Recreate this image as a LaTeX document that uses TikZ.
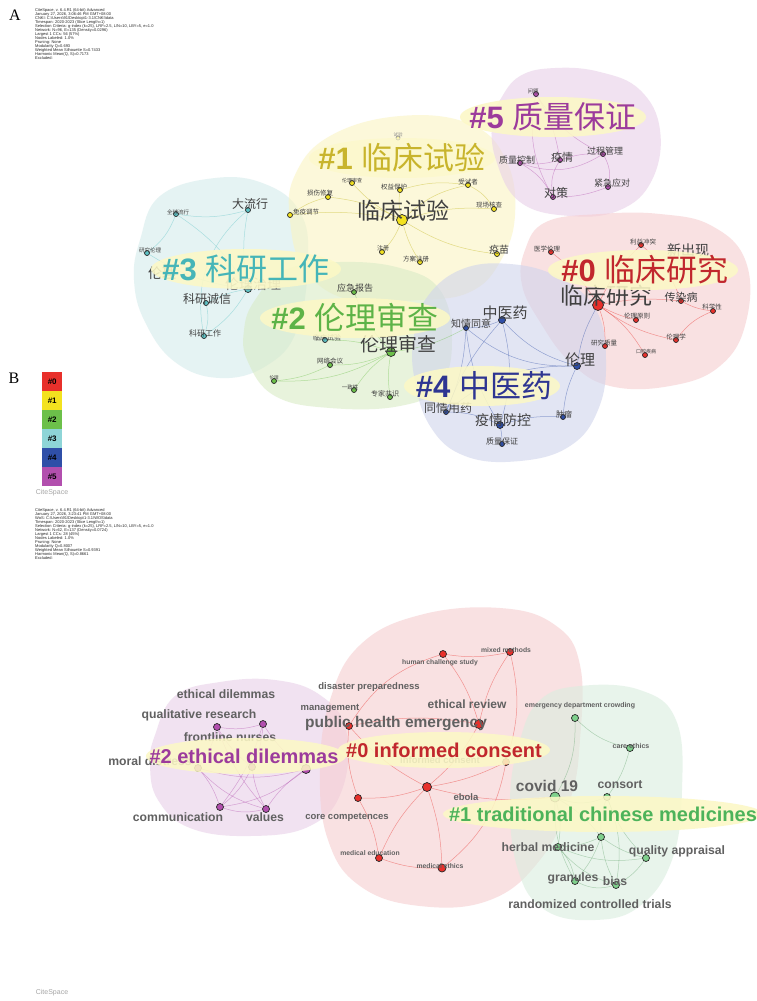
\documentclass[tikz,border=0pt]{standalone}
\usepackage{fontspec}
\setmainfont{Liberation Sans}
\newfontfamily\cjk{Noto Sans CJK SC}
\newfontfamily\serifA{Liberation Serif}
\usetikzlibrary{shapes.geometric}
\definecolor{cR}{HTML}{E8302B}
\definecolor{cY}{HTML}{F3E21F}
\definecolor{cG}{HTML}{6CC04A}
\definecolor{cC}{HTML}{5EC3C6}
\definecolor{cB}{HTML}{2F4FA8}
\definecolor{cP}{HTML}{B24FAE}
\definecolor{cGb}{HTML}{7FD08C}
\definecolor{tR}{HTML}{C1272D}
\definecolor{tY}{HTML}{C8B42C}
\definecolor{tG}{HTML}{5DB347}
\definecolor{tC}{HTML}{45B5B8}
\definecolor{tB}{HTML}{2E3592}
\definecolor{tP}{HTML}{9C3B9C}
\definecolor{tGb}{HTML}{4DB35A}
\definecolor{bR}{HTML}{F6CDD0}
\definecolor{bY}{HTML}{FAF4C2}
\definecolor{bG}{HTML}{D9EBC6}
\definecolor{bC}{HTML}{D5ECEC}
\definecolor{bB}{HTML}{D0D4EC}
\definecolor{bP}{HTML}{E8D0E8}
\definecolor{bGb}{HTML}{DAEEDF}
\definecolor{hl}{HTML}{FCF8C6}
\newcommand\cltxt[2]{{\bfseries\##1} {\cjk #2}}
\tikzset{
 kwdot/.style={circle,draw=black!85,line width=0.7pt,inner sep=0pt,minimum size=#1},
 kwdot/.default=5pt,
 zl/.style={font=\cjk\fontsize{#1pt}{#1pt}\selectfont,text=black!75,inner sep=0pt},
 el/.style={font=\bfseries\fontsize{#1pt}{#1pt}\selectfont,text=black!62,inner sep=0pt},
 clab/.style={font=\fontsize{31pt}{31pt}\selectfont,inner sep=0pt},
 blab/.style={font=\bfseries\fontsize{20pt}{20pt}\selectfont,inner sep=0pt},
 blob/.style={fill=#1,fill opacity=0.6,draw=none},
 hlight/.style={fill=hl,fill opacity=0.88},
 edge/.style={draw=#1,line width=0.5pt,draw opacity=0.45},
 hdr/.style={font=\fontsize{4pt}{4pt}\selectfont,align=left,anchor=north west,inner sep=0pt,text=black!85},
 legbox/.style={minimum width=20pt,minimum height=19pt,inner sep=0pt,font=\bfseries\fontsize{8pt}{8pt}\selectfont,anchor=north west},
 logo/.style={font=\fontsize{7pt}{7pt}\selectfont,text=black!35,inner sep=0pt}
}
\begin{document}
\begin{tikzpicture}[x=1pt,y=-1pt]
\clip (0,0) rectangle (757,1001);
\fill[white] (0,0) rectangle (757,1001);

% ===== Panel A headers =====
\node[font=\serifA\fontsize{16pt}{16pt}\selectfont] (A) at (15,15) {A};
\node[hdr] (hdrA) at (35,8) {CiteSpace, v. 6.4.R1 (64-bit) Advanced\\January 27, 2026, 3:06:46 PM GMT+08:00\\CNKI: C:\textbackslash Users\textbackslash 91\textbackslash Desktop\textbackslash 1-3.1\textbackslash CNKI\textbackslash data\\Timespan: 2020-2023 (Slice Length=1)\\Selection Criteria: g-index (k=25), LRF=2.5, L/N=10, LBY=5, e=1.0\\Network: N=96, E=135 (Density=0.0296)\\Largest 1 CCs: 56 (57\%)\\Nodes Labeled: 1.0\%\\Pruning: None\\Modularity Q=0.693\\Weighted Mean Silhouette S=0.7433\\Harmonic Mean(Q, S)=0.7173\\Excluded:};

% ===== Panel A blobs =====
\fill[blob=bC] plot[smooth cycle,tension=0.7] coordinates {(140,240) (160,196) (215,178) (265,184) (300,212) (308,260) (297,330) (266,366) (220,378) (175,362) (145,322) (134,280)};
\fill[blob=bY] plot[smooth cycle,tension=0.7] coordinates {(295,175) (330,136) (400,116) (470,124) (506,160) (515,215) (500,262) (470,292) (420,300) (350,300) (305,270) (290,220)};
\fill[blob=bP] plot[smooth cycle,tension=0.7] coordinates {(500,100) (520,76) (555,68) (600,72) (640,90) (660,130) (652,180) (620,210) (570,216) (520,202) (496,160) (492,120)};
\fill[blob=bR] plot[smooth cycle,tension=0.7] coordinates {(525,250) (546,222) (600,214) (660,214) (712,226) (746,262) (746,322) (720,366) (670,386) (610,386) (570,362) (540,322) (522,285)};
\fill[blob=bG] plot[smooth cycle,tension=0.7] coordinates {(255,300) (285,270) (340,262) (400,268) (440,290) (452,340) (440,386) (400,406) (330,408) (275,396) (248,362) (244,330)};
\fill[blob=bB] plot[smooth cycle,tension=0.7] coordinates {(425,300) (460,270) (510,264) (560,278) (596,310) (606,360) (598,410) (570,446) (520,461) (465,456) (430,426) (414,376) (414,336)};

% ===== Panel A nodes =====
\node[kwdot=11pt,fill=cY] (lcsy) at (402,220) {};
\node[kwdot,fill=cY] (qybh) at (400,190) {};
\node[kwdot,fill=cY] (sss) at (468,185) {};
\node[kwdot,fill=cY] (sxxf) at (328,197) {};
\node[kwdot,fill=cY] (llscy) at (352,183) {};
\node[kwdot,fill=cY] (myjt) at (290,215) {};
\node[kwdot,fill=cY] (xchc) at (494,209) {};
\node[kwdot,fill=cY] (ym) at (497,254) {};
\node[kwdot,fill=cY] (zc) at (382,252) {};
\node[kwdot,fill=cY] (fazc) at (420,262) {};
\node[kwdot=4pt,fill=cY!40,draw=black!40] (sy) at (398,138) {};
\node[kwdot,fill=cP] (wt) at (536,94) {};
\node[kwdot,fill=cP] (zlkz) at (520,163) {};
\node[kwdot,fill=cP] (yq5) at (560,160) {};
\node[kwdot,fill=cP] (gcgl) at (603,154) {};
\node[kwdot,fill=cP] (jjyd) at (608,187) {};
\node[kwdot,fill=cP] (dc) at (553,197) {};
\node[kwdot=11pt,fill=cR] (lcyj) at (598,305) {};
\node[kwdot,fill=cR] (yxll) at (551,252) {};
\node[kwdot,fill=cR] (lyct) at (641,245) {};
\node[kwdot,fill=cR] (crb) at (681,301) {};
\node[kwdot,fill=cR] (kxx) at (713,311) {};
\node[kwdot,fill=cR] (llyz) at (636,320) {};
\node[kwdot,fill=cR] (llx) at (676,340) {};
\node[kwdot,fill=cR] (yjzl) at (605,346) {};
\node[kwdot,fill=cR] (kqjb) at (645,355) {};
\node[kwdot=7pt,fill=cB] (zyy) at (502,320) {};
\node[kwdot,fill=cB] (zqty) at (466,328) {};
\node[kwdot=7pt,fill=cB] (ll4) at (577,366) {};
\node[kwdot,fill=cB] (tqyy) at (446,412) {};
\node[kwdot=7pt,fill=cB] (yqfk) at (500,425) {};
\node[kwdot,fill=cB] (zlbz) at (502,444) {};
\node[kwdot,fill=cB] (zl) at (563,417) {};
\node[kwdot,fill=cC] (dlx) at (248,210) {};
\node[kwdot,fill=cC] (qqlx) at (176,214) {};
\node[kwdot,fill=cC] (yjll) at (147,253) {};
\node[kwdot=7pt,fill=cC] (llzl) at (248,289) {};
\node[kwdot,fill=cC] (kycx) at (206,303) {};
\node[kwdot,fill=cC] (kygz) at (204,336) {};
\node[kwdot,fill=cG] (yjbg) at (354,292) {};
\node[kwdot=9pt,fill=cG] (llsc) at (391,352) {};
\node[kwdot,fill=cC] (lcsyc) at (325,340) {};
\node[kwdot,fill=cG] (wlhy) at (330,365) {};
\node[kwdot,fill=cG] (ll2) at (274,381) {};
\node[kwdot,fill=cG] (yzx) at (354,390) {};
\node[kwdot,fill=cG] (zjgs) at (390,397) {};

% ===== Panel A edges =====
\foreach \a/\b/\c in {lcsy/qybh/10,lcsy/sss/15,lcsy/sxxf/-10,lcsy/llscy/10,lcsy/myjt/-8,lcsy/xchc/10,lcsy/ym/-12,lcsy/zc/10,lcsy/fazc/-8,sss/xchc/15,myjt/sxxf/10,qybh/sss/12}
  \draw[edge=cY!80!black] (\a) to[bend left=\c] (\b);
\foreach \a/\b/\c in {zlkz/yq5/-10,zlkz/dc/15,yq5/dc/-20,yq5/gcgl/10,gcgl/jjyd/20,dc/jjyd/-10,wt/yq5/10,wt/gcgl/-15,zlkz/gcgl/-25,wt/dc/-20}
  \draw[edge=cP] (\a) to[bend left=\c] (\b);
\foreach \a/\b/\c in {lcyj/yxll/-10,lcyj/lyct/10,lcyj/crb/8,lcyj/llyz/-6,lcyj/llx/-12,lcyj/yjzl/10,lcyj/kqjb/12,crb/kxx/-10,llx/kxx/15,lyct/crb/15}
  \draw[edge=cR] (\a) to[bend left=\c] (\b);
\foreach \a/\b/\c in {zyy/zqty/10,zyy/ll4/-15,zqty/ll4/-20,zyy/yqfk/15,zqty/tqyy/10,tqyy/yqfk/12,yqfk/zlbz/5,yqfk/zl/10,ll4/zl/-10,ll4/tqyy/-20,zqty/yqfk/-12,zyy/tqyy/-10,ll4/lcyj/10}
  \draw[edge=cB] (\a) to[bend left=\c] (\b);
\foreach \a/\b/\c in {llzl/dlx/10,llzl/qqlx/-12,llzl/yjll/12,llzl/kycx/-8,llzl/kygz/12,dlx/qqlx/12,qqlx/yjll/15,kycx/kygz/15,dlx/kygz/-30}
  \draw[edge=cC] (\a) to[bend left=\c] (\b);
\foreach \a/\b/\c in {llsc/yjbg/10,llsc/lcsyc/-10,llsc/wlhy/12,llsc/ll2/15,llsc/yzx/-10,llsc/zjgs/-8,wlhy/ll2/10,llsc/zqty/-10}
  \draw[edge=cG] (\a) to[bend left=\c] (\b);

% ===== Panel A labels =====
\node[zl=23] (lcsy-l) at (403,211) {临床试验};
\node[zl=6.5] (qybh-l) at (394,187) {权益保护};
\node[zl=6.5] (sss-l) at (468,182) {受试者};
\node[zl=6.5] (sxxf-l) at (320,193) {损伤修复};
\node[zl=5] (llscy-l) at (352,181) {伦理审查};
\node[zl=6.5] (myjt-l) at (306,212) {免疫调节};
\node[zl=6.5] (xchc-l) at (489,205) {现场核查};
\node[zl=10] (ym-l) at (499,250) {疫苗};
\node[zl=6] (zc-l) at (383,248) {注册};
\node[zl=6.5] (fazc-l) at (416,259) {方案注册};
\node[zl=4.5,text=black!45] (sy-l) at (398,135) {试验};
\node[zl=5.5] (wt-l) at (533,91) {问题};
\node[zl=9] (zlkz-l) at (517,160) {质量控制};
\node[zl=11] (yq5-l) at (562,157) {疫情};
\node[zl=9] (gcgl-l) at (605,151) {过程管理};
\node[zl=9] (jjyd-l) at (612,183) {紧急应对};
\node[zl=12] (dc-l) at (556,193) {对策};
\node[zl=23] (lcyj-l) at (606,296) {临床研究};
\node[zl=6.5] (yxll-l) at (547,249) {医学伦理};
\node[zl=6.5] (lyct-l) at (643,242) {利益冲突};
\node[zl=14] (xcx-l) at (688,250) {新出现};
\node[zl=11] (crb-l) at (681,297) {传染病};
\node[zl=6.5] (kxx-l) at (712,307) {科学性};
\node[zl=6.5] (llyz-l) at (637,316) {伦理原则};
\node[zl=6.5] (llx-l) at (676,337) {伦理学};
\node[zl=6.5] (yjzl-l) at (604,343) {研究质量};
\node[zl=5] (kqjb-l) at (646,352) {口腔疾病};
\node[zl=15] (zyy-l) at (505,313) {中医药};
\node[zl=10] (zqty-l) at (471,324) {知情同意};
\node[zl=15] (ll4-l) at (580,360) {伦理};
\node[zl=12] (tqyy-l) at (448,408) {同情用药};
\node[zl=14] (yqfk-l) at (503,420) {疫情防控};
\node[zl=8] (zlbz-l) at (502,441) {质量保证};
\node[zl=8] (zl-l) at (564,414) {肿瘤};
\node[zl=12] (dlx-l) at (250,204) {大流行};
\node[zl=5.5] (qqlx-l) at (178,212) {全球流行};
\node[zl=5.5] (yjll-l) at (150,250) {研究伦理};
\node[zl=14] (ll3-l) at (162,273) {伦理};
\node[zl=14,text=black!55] (llzl-l) at (253,284) {伦理治理};
\node[zl=12] (kycx-l) at (207,299) {科研诚信};
\node[zl=8] (kygz-l) at (205,333) {科研工作};
\node[zl=9] (yjbg-l) at (355,288) {应急报告};
\node[zl=19] (llsc-l) at (398,344) {伦理审查};
\node[zl=7] (lcsyc-l) at (327,338) {临床试验};
\node[zl=6.5] (wlhy-l) at (330,361) {网络会议};
\node[zl=4.5] (ll2-l) at (274,378) {伦理};
\node[zl=5.5] (yzx-l) at (350,387) {一致性};
\node[zl=7] (zjgs-l) at (385,394) {专家共识};

% ===== Panel A cluster labels =====
\fill[hlight] (553,117) ellipse [x radius=93,y radius=20];
\node[clab,text=tP] (c5) at (553,117) {\cltxt{5}{质量保证}};
\fill[hlight,fill opacity=0.6] (402,158) ellipse [x radius=93,y radius=20];
\node[clab,text=tY] (c1) at (402,158) {\cltxt{1}{临床试验}};
\fill[hlight] (246,269) ellipse [x radius=95,y radius=20];
\node[clab,text=tC] (c3) at (246,269) {\cltxt{3}{科研工作}};
\fill[hlight] (643,270) ellipse [x radius=95,y radius=20];
\node[clab,text=tR] (c0) at (645,270) {\cltxt{0}{临床研究}};
\fill[hlight] (355,318) ellipse [x radius=95,y radius=20];
\node[clab,text=tG] (c2) at (355,318) {\cltxt{2}{伦理审查}};
\fill[hlight] (482,386) ellipse [x radius=78,y radius=20];
\node[clab,text=tB] (c4) at (484,386) {\cltxt{4}{中医药}};

% ===== Legend =====
\node[font=\serifA\fontsize{16pt}{16pt}\selectfont] (B) at (14,378) {B};
\node[legbox,fill=cR] (L0) at (42,372) {\#0};
\node[legbox,fill=cY] (L1) at (42,391) {\#1};
\node[legbox,fill=cG] (L2) at (42,410) {\#2};
\node[legbox,fill=cC!70] (L3) at (42,429) {\#3};
\node[legbox,fill=cB] (L4) at (42,448) {\#4};
\node[legbox,fill=cP] (L5) at (42,467) {\#5};
\node[logo] (logo1) at (52,493) {CiteSpace};
\node[hdr] (hdrB) at (35,508) {CiteSpace, v. 6.4.R1 (64-bit) Advanced\\January 27, 2026, 3:23:41 PM GMT+08:00\\WoS: C:\textbackslash Users\textbackslash 91\textbackslash Desktop\textbackslash 1-3.1\textbackslash WOS\textbackslash data\\Timespan: 2020-2023 (Slice Length=1)\\Selection Criteria: g-index (k=25), LRF=2.5, L/N=10, LBY=5, e=1.0\\Network: N=62, E=137 (Density=0.0724)\\Largest 1 CCs: 28 (45\%)\\Nodes Labeled: 1.0\%\\Pruning: None\\Modularity Q=0.8007\\Weighted Mean Silhouette S=0.9391\\Harmonic Mean(Q, S)=0.8661\\Excluded:};

% ===== Panel B blobs =====
\fill[blob=bP] plot[smooth cycle,tension=0.7] coordinates {(155,735) (175,696) (220,682) (275,680) (320,695) (346,730) (342,790) (310,826) (250,836) (190,828) (158,800) (150,765)};
\fill[blob=bR] plot[smooth cycle,tension=0.7] coordinates {(330,700) (360,645) (420,615) (500,608) (555,625) (580,665) (580,740) (570,800) (540,860) (490,900) (420,906) (360,886) (328,840) (320,770)};
\fill[blob=bGb] plot[smooth cycle,tension=0.7] coordinates {(520,740) (540,700) (580,686) (640,690) (676,720) (682,790) (672,860) (640,906) (595,920) (545,910) (518,870) (510,800)};

% ===== Panel B nodes =====
\node[kwdot=7pt,fill=cR] (hcs) at (443,654) {};
\node[kwdot=7pt,fill=cR] (mm) at (510,652) {};
\node[kwdot=7pt,fill=cR] (phe) at (349,726) {};
\node[kwdot=9pt,fill=cR] (er) at (479,724) {};
\node[kwdot=7pt,fill=cR] (ic) at (506,762) {};
\node[kwdot=9pt,fill=cR] (hub) at (427,787) {};
\node[kwdot=7pt,fill=cR] (cc) at (358,798) {};
\node[kwdot=7pt,fill=cR] (med) at (379,858) {};
\node[kwdot=8pt,fill=cR] (mef) at (442,868) {};
\node[kwdot=7pt,fill=cP] (p1) at (217,727) {};
\node[kwdot=7pt,fill=cP] (p2) at (263,724) {};
\node[kwdot=7pt,fill=cP] (p3) at (198,768) {};
\node[kwdot=7pt,fill=cP] (p4) at (252,767) {};
\node[kwdot=9pt,fill=cP] (p5) at (306,769) {};
\node[kwdot=7pt,fill=cP] (p6) at (220,807) {};
\node[kwdot=7pt,fill=cP] (p7) at (266,809) {};
\node[kwdot=7pt,fill=cGb] (g1) at (575,718) {};
\node[kwdot=7pt,fill=cGb] (g2) at (630,748) {};
\node[kwdot=10pt,fill=cGb] (g3) at (555,797) {};
\node[kwdot=7pt,fill=cGb] (g4) at (607,797) {};
\node[kwdot=7pt,fill=cGb] (g5) at (601,837) {};
\node[kwdot=7pt,fill=cGb] (g6) at (558,847) {};
\node[kwdot=7pt,fill=cGb] (g7) at (646,858) {};
\node[kwdot=7pt,fill=cGb] (g8) at (575,881) {};
\node[kwdot=7pt,fill=cGb] (g9) at (616,885) {};

% ===== Panel B edges =====
\foreach \a/\b/\c in {hub/phe/10,hub/er/-10,hub/ic/-8,hub/cc/10,hub/med/-10,hub/mef/8,er/phe/-10,er/mm/10,hcs/mm/-10,hcs/er/10,mm/ic/15,med/mef/-10,cc/med/10,phe/cc/-12,ic/mef/20,hcs/phe/-20,hub/g3/-10}
  \draw[edge=cR] (\a) to[bend left=\c] (\b);
\foreach \a/\b/\c in {p1/p2/-12,p1/p3/10,p1/p4/-10,p2/p4/10,p2/p5/-10,p3/p6/10,p3/p7/-15,p4/p6/12,p4/p7/-10,p5/p6/15,p5/p7/-10,p6/p7/-15,p3/p5/-15,p1/p7/-10,p2/p6/10}
  \draw[edge=cP] (\a) to[bend left=\c] (\b);
\foreach \a/\b/\c in {g1/g2/-15,g1/g3/15,g2/g4/10,g3/g4/-20,g3/g5/10,g3/g6/12,g4/g5/-10,g4/g7/-12,g5/g6/10,g5/g7/-10,g5/g8/10,g5/g9/-10,g6/g8/15,g6/g9/-15,g8/g9/-20,g7/g9/12,g3/g8/-15,g4/g9/15,g6/g7/-15}
  \draw[edge=cGb!80!black] (\a) to[bend left=\c] (\b);

% ===== Panel B labels =====
\node[el=6.8] (hcs-l) at (440,663) {human challenge study};
\node[el=6.8] (mm-l) at (506,650) {mixed methods};
\node[el=9.5] (dp-l) at (369,687) {disaster preparedness};
\node[el=9.5] (mg-l) at (330,708) {management};
\node[el=15.5] (phe-l) at (396,724) {public health emergency};
\node[el=12] (er-l) at (467,704) {ethical review};
\node[el=9.5] (ic-l) at (440,760) {informed consent};
\node[el=9.5] (eb-l) at (466,797) {ebola};
\node[el=9.5] (cc-l) at (347,817) {core competences};
\node[el=6.8] (med-l) at (370,853) {medical education};
\node[el=6.8] (mef-l) at (440,866) {medical ethics};
\node[el=12.2] (ed-l) at (226,694) {ethical dilemmas};
\node[el=12.2] (qr-l) at (199,715) {qualitative research};
\node[el=12.2] (fn-l) at (230,737) {frontline nurses};
\node[el=12.2] (md-l) at (150,761) {moral distress};
\node[el=12.2] (p6-l) at (178,817) {communication};
\node[el=12.2] (p7-l) at (265,817) {values};
\node[el=7] (g1-l) at (580,706) {emergency department crowding};
\node[el=7] (g2-l) at (631,746) {care ethics};
\node[el=15.5] (g3-l) at (547,786) {covid 19};
\node[el=12.2] (g4-l) at (620,785) {consort};
\node[el=12.2] (g6-l) at (548,847) {herbal medicine};
\node[el=12.2] (g7-l) at (677,851) {quality appraisal};
\node[el=12.2] (g8-l) at (573,878) {granules};
\node[el=12.2] (g9-l) at (615,881) {bias};
\node[el=12.2] (rct-l) at (590,904) {randomized controlled trials};

% ===== Panel B cluster labels =====
\fill[hlight] (246,756) ellipse [x radius=100,y radius=18];
\node[blab,text=tP] (b2) at (244,756) {\#2 ethical dilemmas};
\fill[hlight] (444,750) ellipse [x radius=106,y radius=18];
\node[blab,text=tR] (b0) at (444,750) {\#0 informed consent};
\fill[hlight] (603,814) ellipse [x radius=160,y radius=18];
\node[blab,text=tGb] (b1) at (603,814) {\#1 traditional chinese medicines};

\node[logo] (logo2) at (52,993) {CiteSpace};
\end{tikzpicture}
\end{document}
